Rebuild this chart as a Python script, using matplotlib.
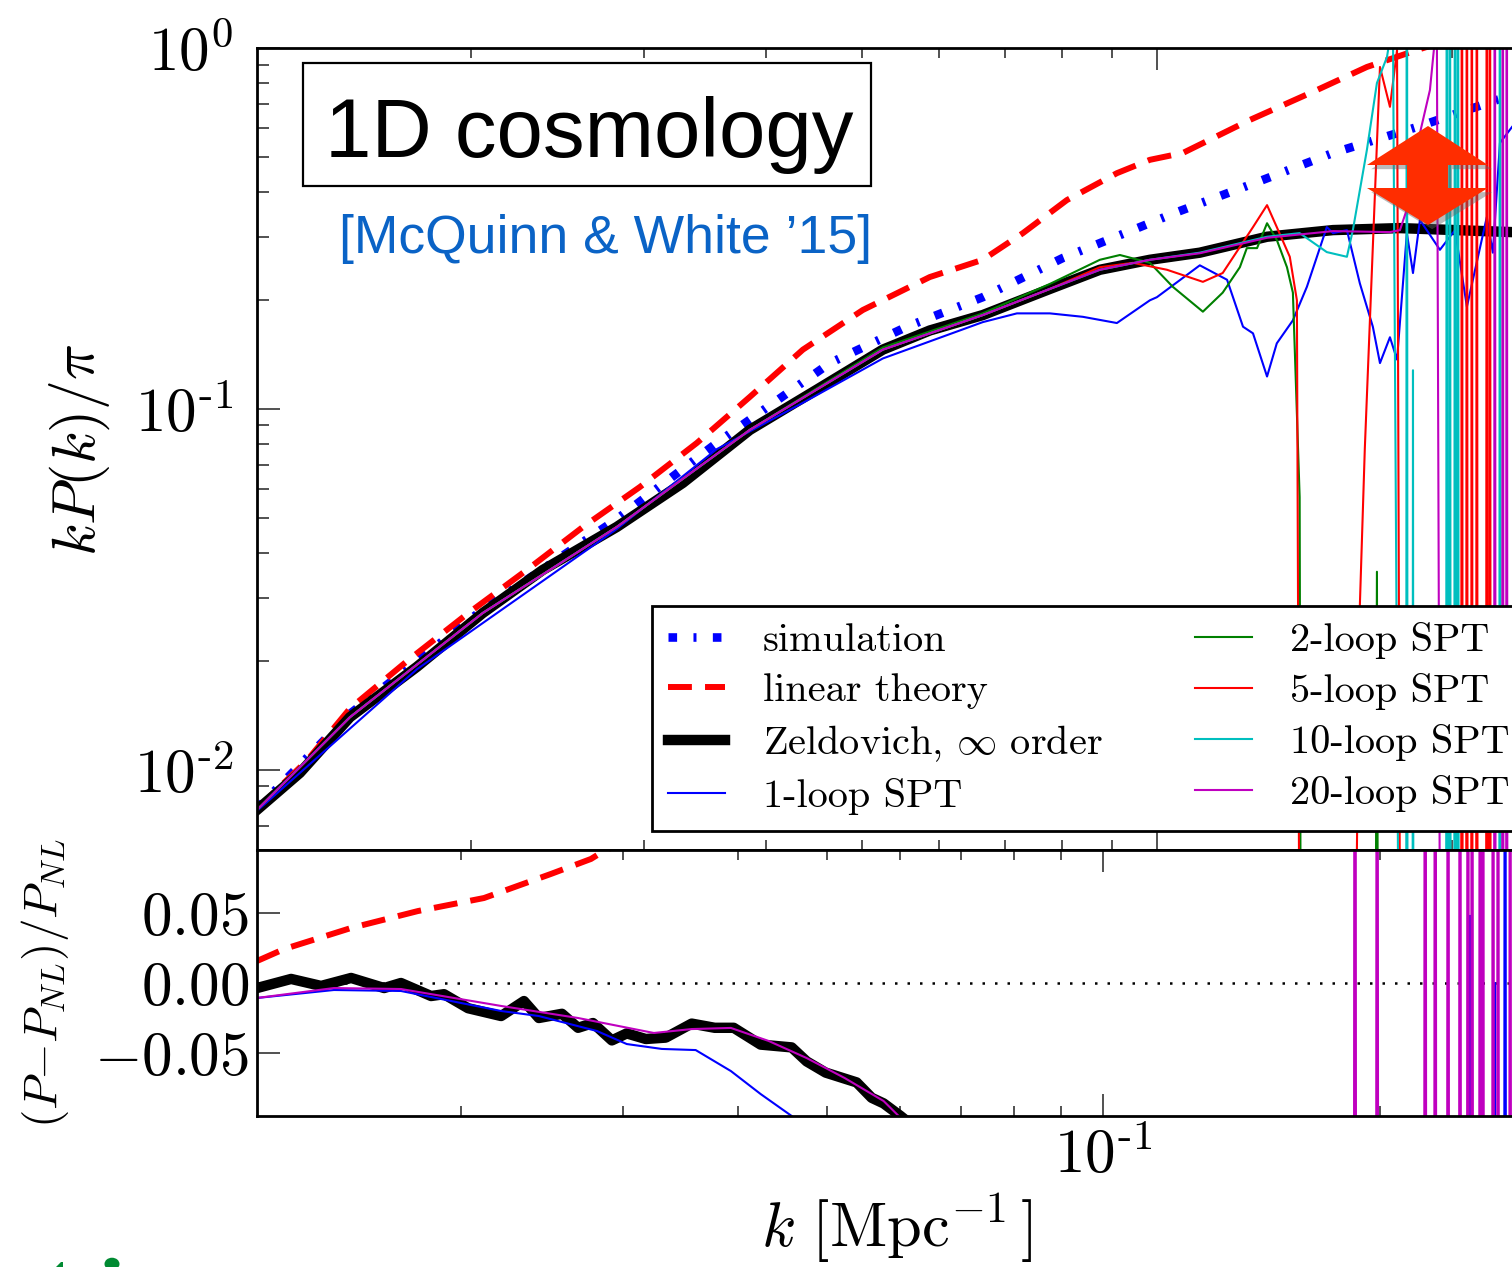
import numpy as np
import matplotlib
matplotlib.use('Agg')
import matplotlib.pyplot as plt
from matplotlib.patches import Rectangle, Polygon, Circle
import matplotlib.patheffects as pe
from matplotlib.ticker import FixedLocator, FixedFormatter, LogLocator, NullFormatter, NullLocator

plt.rcParams['mathtext.fontset'] = 'cm'
plt.rcParams['font.family'] = ['cmr10', 'DejaVu Serif']
plt.rcParams['axes.unicode_minus'] = False

# ---------------- data: top panel  (k [1/Mpc], kP(k)/pi) ----------------
k_sim = [0.0121, 0.01505, 0.02055, 0.02815, 0.03560, 0.04642, 0.05561, 0.06645, 0.08020,
         0.09609, 0.1048, 0.1265, 0.1512, 0.1841, 0.2221, 0.30]
P_sim = [0.0078, 0.0143, 0.0278, 0.0495, 0.0805, 0.134, 0.169, 0.204, 0.262,
         0.319, 0.351, 0.425, 0.512, 0.604, 0.718, 0.90]

k_lin = [0.0121, 0.01360, 0.01505, 0.01720, 0.01980, 0.02279, 0.02600, 0.02972, 0.03397, 0.03847,
         0.04357, 0.05015, 0.05869, 0.06645, 0.07302, 0.08095, 0.09104, 0.09837, 0.1063, 0.1244,
         0.1456, 0.1637, 0.1841, 0.22, 0.30]
P_lin = [0.0078, 0.0106, 0.0148, 0.0200, 0.0270, 0.0358, 0.0471, 0.0608, 0.0805, 0.108,
         0.146, 0.188, 0.232, 0.259, 0.307, 0.379, 0.450, 0.490, 0.512, 0.632,
         0.765, 0.886, 0.987, 1.15, 1.5]

k_zel = [0.0121, 0.01338, 0.01505, 0.01761, 0.02055, 0.02366, 0.02815, 0.03287, 0.03847, 0.04499,
         0.05256, 0.05869, 0.06645, 0.07778, 0.08748, 0.09837, 0.1106, 0.1295, 0.1512, 0.1769,
         0.2301, 0.30]
P_zel = [0.00775, 0.00981, 0.0140, 0.0193, 0.0272, 0.0358, 0.0471, 0.0624, 0.0875, 0.113,
         0.146, 0.165, 0.182, 0.215, 0.243, 0.259, 0.271, 0.300, 0.313, 0.317,
         0.309, 0.305]

k_1loop = [0.0121, 0.01761, 0.02815, 0.03560, 0.04357, 0.05256, 0.06645, 0.07200, 0.07778, 0.08405,
           0.09104, 0.09837, 0.1, 0.1106, 0.1179, 0.1224, 0.1253, 0.1295, 0.1325, 0.1376,
           0.1422, 0.1490, 0.1512, 0.1562, 0.1610, 0.1660, 0.1688, 0.1728, 0.1757, 0.1798,
           0.1824, 0.1854, 0.1943, 0.2013, 0.2070, 0.2169, 0.2200, 0.2237, 0.2301, 0.25, 0.30]
P_1loop = [0.0077, 0.0190, 0.0465, 0.0774, 0.104, 0.138, 0.174, 0.184, 0.184, 0.180,
           0.173, 0.200, 0.204, 0.250, 0.228, 0.169, 0.162, 0.123, 0.152, 0.176,
           0.218, 0.319, 0.307, 0.313, 0.223, 0.169, 0.134, 0.158, 0.137, 0.307,
           0.238, 0.334, 0.276, 0.313, 0.192, 0.340, 0.271, 0.546, 0.604, 0.8, 1.2]

k_2loop = [0.0121, 0.01505, 0.02055, 0.02815, 0.03847, 0.05256, 0.06645, 0.07778, 0.08748, 0.09169,
           0.09837, 0.1038, 0.1114, 0.1167, 0.1215, 0.1235, 0.1265, 0.1295, 0.1325, 0.1357,
           0.1376, 0.1398, 0.1408, 0.1660, 0.1676, 0.1688, 0.30]
P_2loop = [0.00775, 0.0140, 0.0272, 0.0471, 0.0875, 0.148, 0.184, 0.222, 0.259, 0.267,
           0.254, 0.218, 0.186, 0.210, 0.247, 0.279, 0.279, 0.327, 0.294, 0.247,
           0.210, 0.057, 1e-5, 1e-5, 0.0354, 1e-5, 1e-5]

k_5loop = [0.0121, 0.01505, 0.02055, 0.02815, 0.03847, 0.05256, 0.06645, 0.07778, 0.08748, 0.09452,
           0.1024, 0.1114, 0.1167, 0.1215, 0.1253, 0.1295, 0.1325, 0.1366, 0.1389, 0.1408,
           0.1595, 0.1599, 0.1610, 0.1629, 0.1688, 0.1728, 0.1757, 0.1782,
           0.2041, 0.2046, 0.2051, 0.2065, 0.2070, 0.2075, 0.2090, 0.2094, 0.2099,
           0.2114, 0.2119, 0.2124, 0.2164, 0.2169, 0.2174, 0.2180, 0.2185, 0.2190, 0.30]
P_5loop = [0.00775, 0.0140, 0.0272, 0.0471, 0.0875, 0.146, 0.182, 0.215, 0.247, 0.254,
           0.243, 0.225, 0.238, 0.281, 0.319, 0.367, 0.319, 0.264, 0.200, 1e-5,
           1e-5, 0.006, 0.0283, 0.0776, 0.886, 0.687, 0.987, 1e-5,
           1e-5, 100, 1e-5, 1e-5, 100, 1e-5, 1e-5, 100, 1e-5,
           1e-5, 100, 1e-5, 1e-5, 100, 1e-5, 1e-5, 100, 1e-5, 1e-5]

k_10loop = [0.0121, 0.01505, 0.02055, 0.02815, 0.03847, 0.05256, 0.06645, 0.07778, 0.08748, 0.09837,
            0.1106, 0.1295, 0.1398, 0.1490, 0.1562, 0.1584, 0.1637, 0.1676, 0.1716, 0.1740,
            0.1786, 0.1794, 0.1798, 0.1802, 0.1820, 0.1824, 0.1828,
            0.1970, 0.1975, 0.1980, 0.1985, 0.1989, 0.1994, 0.2008, 0.2013, 0.2018,
            0.2022, 0.2027, 0.2032, 0.2232, 0.2237, 0.2242, 0.30]
P_10loop = [0.00775, 0.0140, 0.0272, 0.0471, 0.0875, 0.146, 0.182, 0.215, 0.243, 0.259,
            0.271, 0.300, 0.307, 0.272, 0.264, 0.313, 0.522, 0.800, 0.944, 1.2,
            1e-5, 1e-5, 100, 1e-5, 1e-5, 0.128, 1e-5,
            1e-5, 100, 1e-5, 1e-5, 100, 1e-5, 1e-5, 100, 1e-5,
            1e-5, 100, 1e-5, 1e-5, 100, 1e-5, 1e-5]

k_20loop = [0.0121, 0.01505, 0.02055, 0.02815, 0.03847, 0.05256, 0.06645, 0.07778, 0.08748, 0.09837,
            0.1106, 0.1295, 0.1512, 0.1728, 0.1769, 0.1811, 0.1854, 0.1898, 0.1929, 0.1957,
            0.2205, 0.2210, 0.2216, 0.2247, 0.2252, 0.2257, 0.2268, 0.2273, 0.2278, 0.30]
P_20loop = [0.00775, 0.0140, 0.0272, 0.0471, 0.0875, 0.146, 0.182, 0.215, 0.243, 0.259,
            0.270, 0.298, 0.311, 0.309, 0.313, 0.379, 0.581, 0.765, 1.2, 1e-5,
            1e-5, 100, 1e-5, 1e-5, 100, 1e-5, 1e-5, 100, 1e-5, 1e-5]

# ---------------- data: bottom panel  ((P - P_NL)/P_NL) ----------------
k_lin_r = [0.0120, 0.01285, 0.01519, 0.01796, 0.02119, 0.02506, 0.02770, 0.02861, 0.035, 0.05]
r_lin = [0.0157, 0.0243, 0.0393, 0.0514, 0.0607, 0.0779, 0.0886, 0.0943, 0.12, 0.2]

k_zel_r = [0.0120, 0.01307, 0.01409, 0.01519, 0.01650, 0.01721, 0.01856, 0.01917, 0.02036, 0.02212,
           0.02342, 0.02431, 0.02576, 0.02682, 0.02784, 0.02919, 0.03030, 0.03178, 0.03341, 0.03565,
           0.03777, 0.03961, 0.04237, 0.04580, 0.04755, 0.04987, 0.05389, 0.05596, 0.05766, 0.06016,
           0.07]
r_zel = [-0.0036, 0.0029, -0.0021, 0.0036, -0.0036, 0.0, -0.0093, -0.008, -0.018, -0.0236,
         -0.0129, -0.025, -0.022, -0.032, -0.0286, -0.041, -0.036, -0.040, -0.039, -0.029,
         -0.032, -0.032, -0.044, -0.046, -0.056, -0.064, -0.071, -0.082, -0.086, -0.095,
         -0.13]

k_1loop_r = [0.0120, 0.01455, 0.01721, 0.02212, 0.02431, 0.02812, 0.03030, 0.03308, 0.03601, 0.03933,
             0.04237, 0.04580, 0.055, 0.1, 0.2496, 0.2505, 0.2514, 0.2658, 0.2667, 0.2676,
             0.2726, 0.2735, 0.2744, 0.30]
r_1loop = [-0.0107, -0.0050, -0.0057, -0.020, -0.0236, -0.0343, -0.0436, -0.0471, -0.0479, -0.0629,
           -0.0793, -0.095, -0.16, -0.5, -1, 0.048, -1, -1, 0.0, -1,
           -1, 1, -1, -1]

k_20loop_r = [0.0120, 0.01455, 0.01721, 0.02212, 0.02682, 0.03243, 0.03565, 0.03933, 0.04323, 0.04755,
              0.05231, 0.05766, 0.05988, 0.07, 0.15,
              0.1870, 0.1878, 0.1886, 0.1977, 0.1985, 0.1993, 0.2230, 0.2239, 0.2248,
              0.2287, 0.2296, 0.2305, 0.2362, 0.2371, 0.2380, 0.2434, 0.2443, 0.2452,
              0.2483, 0.2492, 0.2501, 0.2509, 0.2518, 0.2527, 0.2560, 0.2569, 0.2578,
              0.2580, 0.2588, 0.2596, 0.2645, 0.2654, 0.2663, 0.2678, 0.2687, 0.2696,
              0.2761, 0.2770, 0.2779, 0.30]
r_20loop = [-0.0107, -0.0036, -0.0043, -0.0164, -0.025, -0.0357, -0.0329, -0.0321, -0.0414, -0.0536,
            -0.0679, -0.0843, -0.095, -0.14, -0.5,
            -1, 1, -1, -1, 1, -1, -1, 1, -1,
            -1, 1, -1, -1, 1, -1, -1, 1, -1,
            -1, 1, -1, -1, 1, -1, -1, 1, -1,
            -1, 1, -1, -1, 1, -1, -1, 1, -1,
            -1, 1, -1, -1]
zero_level = 0.0

# ---------------- ticks / labels ----------------
ytick_top_vals = [1e-2, 1e-1, 1e0]
ytick_top_labels = [r'$10^{\text{-}2}$', r'$10^{\text{-}1}$', r'$10^{0}$']
ytick_bot_vals = [-0.05, 0.0, 0.05]
ytick_bot_labels = [r'$-0.05$', r'$0.00$', r'$0.05$']
xtick_vals = [0.1]
xtick_labels = [r'$10^{\text{-}1}$']

W, H = 1512, 1267
fig = plt.figure(figsize=(W / 100, H / 100), dpi=100)


def fx(px):
    return px / W


def fy(py):
    return 1 - py / H


ax = fig.add_axes([fx(257), fy(850), (1625 - 257) / W, (850 - 48) / H])
ax2 = fig.add_axes([fx(257), fy(1116), (1542 - 257) / W, (1116 - 850) / H])

thin = 1.5
ax.plot(k_sim, P_sim, color='b', lw=6.2, dashes=(1.0, 1.9, 0.35, 1.9), label='simulation')
ax.plot(k_lin, P_lin, color='r', lw=4.3, dashes=(4.0, 2.2), label='linear theory')
ax.plot(k_zel, P_zel, color='k', lw=7.5, label=r'Zeldovich, $\infty$ order')
ax.plot(k_1loop, P_1loop, color='b', lw=thin, label='1-loop SPT')
ax.plot(k_2loop, P_2loop, color='g', lw=thin, label='2-loop SPT')
ax.plot(k_5loop, P_5loop, color='r', lw=thin, label='5-loop SPT')
ax.plot(k_10loop, P_10loop, color='c', lw=thin, label='10-loop SPT')
ax.plot(k_20loop, P_20loop, color='m', lw=thin, label='20-loop SPT')

ax.set_xscale('log')
ax.set_yscale('log')
ax.set_xlim(0.0121, 0.3)
ax.set_ylim(0.006, 1.0)
ax.yaxis.set_major_locator(FixedLocator(ytick_top_vals))
ax.yaxis.set_major_formatter(FixedFormatter(ytick_top_labels))
ax.yaxis.set_minor_locator(LogLocator(base=10, subs=np.arange(2, 10)))
ax.yaxis.set_minor_formatter(NullFormatter())
ax.xaxis.set_major_locator(LogLocator(base=10))
ax.xaxis.set_minor_locator(LogLocator(base=10, subs=np.arange(2, 10)))
ax.xaxis.set_minor_formatter(NullFormatter())
ax.tick_params(which='both', direction='in', top=True, right=True, labelbottom=False,
               width=1.2, color='#333333')
ax.tick_params(axis='y', which='major', length=16.5, labelsize=44, pad=17)
ax.tick_params(axis='y', which='minor', length=8.5)
ax.tick_params(axis='x', which='major', length=16)
ax.tick_params(axis='x', which='minor', length=7.5)
for s in ax.spines.values():
    s.set_linewidth(2.0)

leg = ax.legend(ncol=2, loc='lower left', bbox_to_anchor=(fx(652), fy(831)),
                bbox_transform=fig.transFigure, borderaxespad=0, fontsize=29,
                frameon=True, fancybox=False, edgecolor='k', framealpha=1,
                handlelength=1.4, handletextpad=0.95, columnspacing=2.3,
                labelspacing=0.35, borderpad=0.4)
leg.get_frame().set_linewidth(2.0)

# bottom panel
ax2.axhline(zero_level, color='k', lw=1.8, dashes=(1, 4))
ax2.plot(k_lin_r, r_lin, color='r', lw=4.3, dashes=(4.0, 2.2))
ax2.plot(k_zel_r, r_zel, color='k', lw=7.5)
ax2.plot(k_1loop_r, r_1loop, color='b', lw=thin)
ax2.plot(k_20loop_r, r_20loop, color='m', lw=thin)
ax2.set_xscale('log')
ax2.set_xlim(0.012, 0.3)
ax2.set_ylim(-0.095, 0.095)
ax2.yaxis.set_major_locator(FixedLocator(ytick_bot_vals))
ax2.yaxis.set_major_formatter(FixedFormatter(ytick_bot_labels))
ax2.yaxis.set_minor_locator(NullLocator())
ax2.xaxis.set_major_locator(FixedLocator(xtick_vals))
ax2.xaxis.set_major_formatter(FixedFormatter(xtick_labels))
ax2.xaxis.set_minor_locator(LogLocator(base=10, subs=np.arange(2, 10)))
ax2.xaxis.set_minor_formatter(NullFormatter())
ax2.tick_params(which='both', direction='in', top=True, right=True, width=1.2, color='#333333')
ax2.tick_params(axis='y', which='major', length=16.5, labelsize=44, pad=6)
ax2.tick_params(axis='x', which='major', length=16, labelsize=44, pad=8)
ax2.tick_params(axis='x', which='minor', length=7.5)
for s in ax2.spines.values():
    s.set_linewidth(2.0)

# axis labels
fig.text(fx(80), fy(450), r'$kP(k)/\pi$', rotation=90, ha='center', va='center', fontsize=43)
fig.text(fx(45), fy(983), r'$(P{-}P_{NL})/P_{NL}$', rotation=90, ha='center', va='center', fontsize=34)
fig.text(fx(897), fy(1228), r'$k\ [\mathrm{Mpc}^{-1}\,]$', ha='center', va='center', fontsize=45)

# annotation box
fig.add_artist(Rectangle((fx(303), fy(186)), (871 - 303) / W, (186 - 63) / H,
                         transform=fig.transFigure, facecolor='white', edgecolor='black', lw=1.6,
                         zorder=5))
fig.text(fx(325), fy(157), '1D cosmology', family='Liberation Sans', fontsize=60,
         ha='left', va='baseline', zorder=6)
fig.text(fx(872), fy(253), '[McQuinn & White \u201915]', family='Liberation Sans', fontsize=38.5,
         color='#0a63c6', ha='right', va='baseline', zorder=6)

# red double arrow
arrow_px = [(1428, 126), (1488, 165), (1448, 165), (1448, 188), (1488, 188), (1428, 225),
            (1367, 188), (1407, 188), (1407, 165), (1367, 165)]
arrow = Polygon([(fx(x), fy(y)) for x, y in arrow_px], closed=True, transform=fig.transFigure,
                facecolor='#ff2d00', edgecolor='none', zorder=7)
arrow.set_path_effects([pe.SimplePatchShadow(offset=(3, -3), shadow_rgbFace='0.4', alpha=0.45),
                        pe.Normal()])
fig.add_artist(arrow)

# fragments of green lettering cut off by the bottom edge
fig.add_artist(Circle((fx(112), fy(1264)), 7.5 / W, transform=fig.transFigure,
                      facecolor='#008a32', edgecolor='none'))
fig.add_artist(Polygon([(fx(56), fy(1267)), (fx(61), fy(1262)), (fx(63), fy(1262)), (fx(63), fy(1267))],
                       closed=True, transform=fig.transFigure, facecolor='#008a32', edgecolor='none'))

fig.savefig('out.png', dpi=100)
